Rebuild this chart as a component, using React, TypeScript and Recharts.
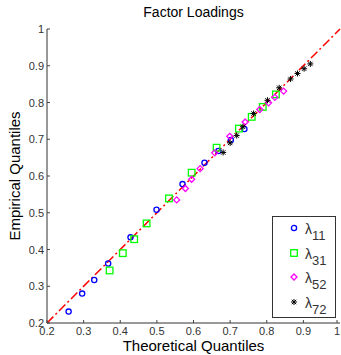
import { ScatterChart, Scatter, XAxis, YAxis, ReferenceLine } from "recharts";

// tick values for both axes
const ticks = [0.2, 0.3, 0.4, 0.5, 0.6, 0.7, 0.8, 0.9, 1];

const lambda11 = [
  [0.259, 0.231], [0.296, 0.28], [0.329, 0.317], [0.367, 0.362], [0.428, 0.433],
  [0.499, 0.508], [0.57, 0.578], [0.63, 0.636], [0.668, 0.668], [0.702, 0.698], [0.739, 0.728],
];
const lambda31 = [
  [0.371, 0.343], [0.407, 0.39], [0.438, 0.428], [0.472, 0.471], [0.533, 0.539],
  [0.595, 0.609], [0.663, 0.677], [0.724, 0.729], [0.759, 0.761], [0.789, 0.788], [0.825, 0.822],
];
const lambda52 = [
  [0.554, 0.535], [0.578, 0.566], [0.595, 0.591], [0.618, 0.62], [0.658, 0.663],
  [0.699, 0.708], [0.741, 0.747], [0.781, 0.781], [0.805, 0.799], [0.822, 0.814], [0.846, 0.831],
];
const lambda72 = [
  [0.681, 0.664], [0.7, 0.69], [0.718, 0.71], [0.735, 0.734], [0.764, 0.77],
  [0.802, 0.806], [0.834, 0.84], [0.865, 0.864], [0.884, 0.879], [0.902, 0.892], [0.919, 0.905],
];

const toPts = (arr: number[][]) => arr.map(([x, y]) => ({ x, y }));

const series = [
  { key: "11", data: lambda11, color: "#0000ff" },
  { key: "31", data: lambda31, color: "#00ff00" },
  { key: "52", data: lambda52, color: "#ff00ff" },
  { key: "72", data: lambda72, color: "#000000" },
];

const fmt = (v: number) => (v === 1 ? "1" : v.toFixed(1));

const Marker = ({ k, cx, cy }: { k: string; cx: number; cy: number }) => {
  if (k === "11")
    return <circle cx={cx} cy={cy} r={2.6} fill="none" stroke="#0000ff" strokeWidth={1.3} />;
  if (k === "31")
    return <rect x={cx - 3.3} y={cy - 3.3} width={6.6} height={6.6} fill="none" stroke="#00ff00" strokeWidth={1.3} />;
  if (k === "52")
    return (
      <polygon
        points={`${cx},${cy - 3} ${cx + 3},${cy} ${cx},${cy + 3} ${cx - 3},${cy}`}
        fill="none"
        stroke="#ff00ff"
        strokeWidth={1.3}
      />
    );
  return (
    <g stroke="#000" strokeWidth={1}>
      <line x1={cx - 3} y1={cy} x2={cx + 3} y2={cy} />
      <line x1={cx} y1={cy - 3} x2={cx} y2={cy + 3} />
      <line x1={cx - 2.2} y1={cy - 2.2} x2={cx + 2.2} y2={cy + 2.2} />
      <line x1={cx - 2.2} y1={cy + 2.2} x2={cx + 2.2} y2={cy - 2.2} />
    </g>
  );
};

const tickFont = { fontSize: 11, fill: "#333", fontFamily: "Liberation Sans, Arial, sans-serif" };

const BottomTick = ({ x, y, payload }: any) => (
  <g>
    <line x1={x} y1={y} x2={x} y2={y - 3} stroke="#444" />
    <text x={x} y={y + 12} textAnchor="middle" {...tickFont}>{fmt(payload.value)}</text>
  </g>
);
const LeftTick = ({ x, y, payload }: any) => (
  <g>
    <line x1={x} y1={y} x2={x + 3} y2={y} stroke="#444" />
    <text x={x - 3} y={y + 4} textAnchor="end" {...tickFont}>{fmt(payload.value)}</text>
  </g>
);
const TopTick = ({ x, y }: any) => <line x1={x} y1={y} x2={x} y2={y + 3} stroke="#444" />;
const RightTick = ({ x, y }: any) => <line x1={x} y1={y} x2={x - 3} y2={y} stroke="#444" />;

const LegendBox = () => (
  <div
    style={{
      position: "absolute",
      left: 272,
      top: 216,
      width: 64,
      height: 102,
      border: "1px solid #333",
      background: "#fff",
      fontFamily: "Liberation Sans, Arial, sans-serif",
      boxSizing: "border-box",
      paddingTop: 3,
    }}
  >
    {series.map((s) => (
      <div key={s.key} style={{ display: "flex", alignItems: "center", height: 24.5 }}>
        <svg width={32} height={20} style={{ flexShrink: 0 }}>
          <Marker k={s.key} cx={21} cy={6} />
        </svg>
        <span style={{ fontSize: 14, color: "#333", lineHeight: "14px" }}>
          λ<sub style={{ fontSize: 13, verticalAlign: -6, lineHeight: "13px" }}>{s.key}</sub>
        </span>
      </div>
    ))}
  </div>
);

const labelFont = { fontFamily: "Liberation Sans, Arial, sans-serif", color: "#000", position: "absolute" as const };

export default function App() {
  return (
    <div style={{ position: "absolute", left: 0, top: 0, width: 341, height: 355, background: "#fff" }}>
      <ScatterChart width={341} height={355} margin={{ top: 29, right: 1, bottom: 12, left: 17 }}>
        <XAxis
          type="number"
          dataKey="x"
          domain={[0.2, 1]}
          ticks={ticks}
          height={20}
          tickSize={0}
          tickMargin={0}
          tickLine={false}
          tick={<BottomTick />}
          axisLine={{ stroke: "#333" }}
          allowDataOverflow
        />
        <XAxis
          xAxisId="top"
          orientation="top"
          type="number"
          dataKey="x"
          domain={[0.2, 1]}
          ticks={ticks}
          height={0}
          tickSize={0}
          tickLine={false}
          tick={<TopTick />}
          axisLine={{ stroke: "#777" }}
          allowDataOverflow
        />
        <YAxis
          type="number"
          dataKey="y"
          domain={[0.2, 1]}
          ticks={ticks}
          width={30}
          tickSize={0}
          tickMargin={0}
          tickLine={false}
          tick={<LeftTick />}
          axisLine={{ stroke: "#333" }}
          allowDataOverflow
        />
        <YAxis
          yAxisId="right"
          orientation="right"
          type="number"
          dataKey="y"
          domain={[0.2, 1]}
          ticks={ticks}
          width={0}
          tickSize={0}
          tickLine={false}
          tick={<RightTick />}
          axisLine={{ stroke: "#777" }}
          allowDataOverflow
        />
        <ReferenceLine
          segment={[{ x: 0.2, y: 0.2 }, { x: 1, y: 1 }]}
          stroke="#ff0000"
          strokeWidth={1.5}
          strokeDasharray="9 3 2 3"
        />
        {series.map((s) => (
          <Scatter
            key={s.key}
            data={toPts(s.data)}
            isAnimationActive={false}
            shape={(p: any) => <Marker k={s.key} cx={p.cx} cy={p.cy} />}
          />
        ))}
      </ScatterChart>
      <LegendBox />
      <div style={{ ...labelFont, left: 0, width: 341, top: 4, textAlign: "center", fontSize: 14, paddingLeft: 46, boxSizing: "border-box" }}>
        Factor Loadings
      </div>
      <div style={{ ...labelFont, left: 0, width: 341, top: 337, textAlign: "center", fontSize: 15, paddingLeft: 46, boxSizing: "border-box" }}>
        Theoretical Quantiles
      </div>
      <div
        style={{
          ...labelFont,
          left: 14,
          top: 176,
          fontSize: 15,
          whiteSpace: "nowrap",
          transform: "translate(-50%, -50%) rotate(-90deg)",
        }}
      >
        Empirical Quantiles
      </div>
    </div>
  );
}
